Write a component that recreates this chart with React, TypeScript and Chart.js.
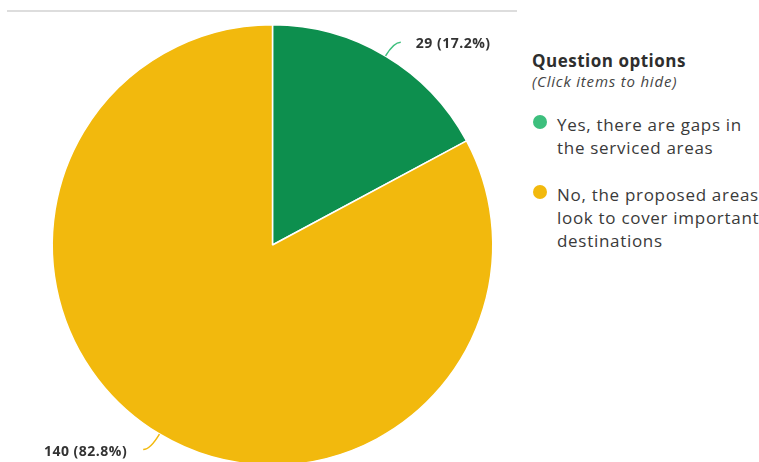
import React, { useEffect, useRef } from "react";
import { Chart, registerables } from "chart.js";

Chart.register(...registerables);

const categories = [
  "Yes, there are gaps in the serviced areas",
  "No, the proposed areas look to cover important destinations",
];
const counts = [29, 140];
const percents = ["17.2%", "82.8%"];
const sliceColors = ["#0d8f4e", "#f2b90d"];
const legendColors = ["#3dbf7d", "#f2b90d"];
const legendTitle = "Question options";
const legendSubtitle = "(Click items to hide)";

const FONT = "'Open Sans', 'DejaVu Sans', sans-serif";

const leaderPlugin = {
  id: "leaderLabels",
  afterDatasetsDraw(chart: any) {
    const ctx = chart.ctx;
    const meta = chart.getDatasetMeta(0);
    meta.data.forEach((arc: any, i: number) => {
      const { x, y, startAngle, endAngle, outerRadius } = arc.getProps(
        ["x", "y", "startAngle", "endAngle", "outerRadius"],
        true
      );
      const mid = (startAngle + endAngle) / 2;
      const c = Math.cos(mid);
      const s = Math.sin(mid);
      const right = c >= 0;
      const p0x = x + outerRadius * c;
      const p0y = y + outerRadius * s;
      const ext = right ? 16 : 18;
      const p1x = x + (outerRadius + ext) * c;
      const p1y = y + (outerRadius + ext) * s;
      const p2x = p1x + (right ? 7 : -7);
      const p2y = p1y;
      ctx.save();
      ctx.strokeStyle = legendColors[i];
      ctx.lineWidth = 1.5;
      ctx.beginPath();
      ctx.moveTo(p0x, p0y);
      ctx.quadraticCurveTo(p1x, p1y, p2x, p2y);
      ctx.stroke();
      ctx.fillStyle = "#333333";
      ctx.font = "bold 14px " + FONT;
      (ctx as any).letterSpacing = "0.5px";
      ctx.textBaseline = "middle";
      ctx.textAlign = right ? "left" : "right";
      ctx.fillText(
        `${counts[i]} (${percents[i]})`,
        p2x + (right ? 15 : -16),
        p2y + (right ? 2 : 3)
      );
      ctx.restore();
    });
  },
};

export default function App() {
  const ref = useRef<HTMLCanvasElement | null>(null);
  useEffect(() => {
    if (!ref.current) return;
    const chart = new Chart(ref.current, {
      type: "pie",
      data: {
        labels: categories,
        datasets: [
          {
            data: counts,
            backgroundColor: sliceColors,
            borderColor: "#ffffff",
            borderWidth: 1.5,
          },
        ],
      },
      options: {
        responsive: false,
        maintainAspectRatio: false,
        animation: false,
        devicePixelRatio: 1,
        layout: { padding: { left: 51.5, right: 36.5, top: 24, bottom: 24 } },
        plugins: {
          legend: { display: false },
          tooltip: { enabled: false },
        },
      },
      plugins: [leaderPlugin],
    });
    return () => chart.destroy();
  }, []);

  return (
    <div
      style={{
        position: "fixed",
        left: 0,
        top: 0,
        width: 759,
        height: 462,
        overflow: "hidden",
        background: "#ffffff",
        fontFamily: FONT,
      }}
    >
      <div
        style={{
          position: "absolute",
          left: 7,
          top: 10,
          width: 510,
          height: 2,
          background: "#dddddd",
        }}
      />
      <canvas
        ref={ref}
        width={530}
        height={490}
        style={{ position: "absolute", left: 0, top: 0, width: 530, height: 490 }}
      />
      <div style={{ position: "absolute", left: 532, top: 50, width: 227, color: "#2e2e2e" }}>
        <div style={{ fontWeight: "bold", fontSize: 17, lineHeight: "22px", letterSpacing: "0.5px" }}>
          {legendTitle}
        </div>
        <div
          style={{
            fontStyle: "italic",
            fontSize: 15,
            lineHeight: "18px",
            letterSpacing: "0.8px",
            color: "#444444",
          }}
        >
          {legendSubtitle}
        </div>
        {categories.map((c, i) => (
          <div
            key={c}
            style={{
              position: "relative",
              marginTop: i === 0 ? 23 : 24,
              paddingLeft: 25,
              fontSize: 17,
              lineHeight: "23px",
              letterSpacing: "0.7px",
              color: "#3a3a3a",
              width: 208,
            }}
          >
            <span
              style={{
                position: "absolute",
                left: 1,
                top: 2,
                width: 14,
                height: 14,
                borderRadius: "50%",
                background: legendColors[i],
              }}
            />
            {c}
          </div>
        ))}
      </div>
    </div>
  );
}
